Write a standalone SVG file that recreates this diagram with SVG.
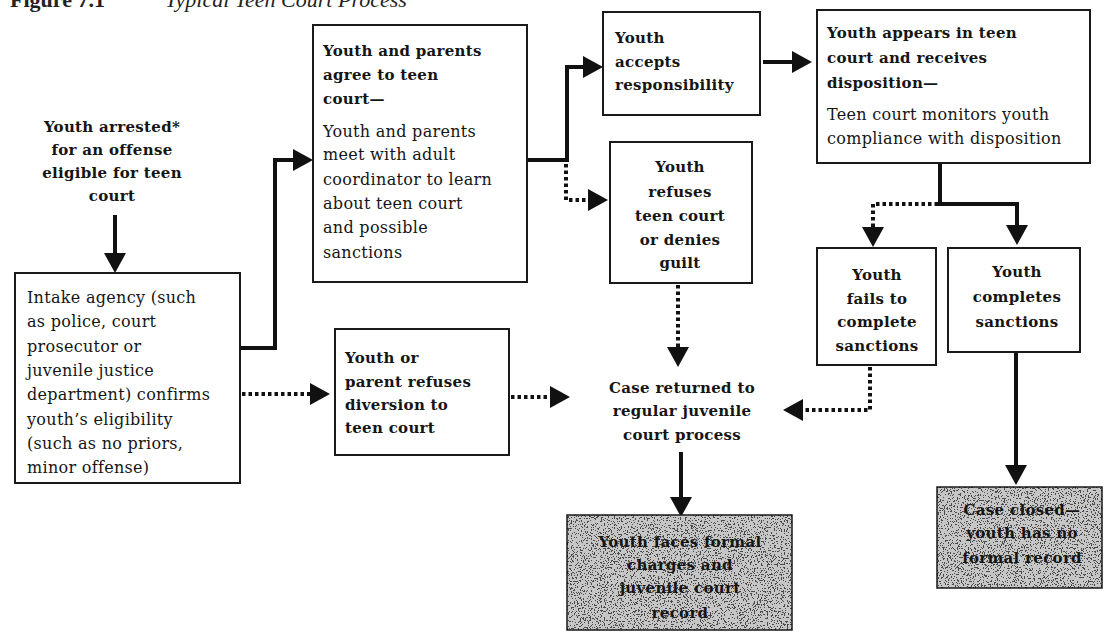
<svg xmlns="http://www.w3.org/2000/svg" width="1116" height="635" viewBox="0 0 1116 635">
  <defs>
    <style>
      .t { font-family: "DejaVu Serif", "Liberation Serif", serif; font-size: 16px; letter-spacing: 0.3px; fill: #151515; }
      .b { font-weight: bold; font-size: 15px; }
      .c { text-anchor: middle; }
      .box { fill: #ffffff; stroke: #1a1a1a; stroke-width: 2; }
      .shade { fill: #c6c6c6; stroke: #1a1a1a; stroke-width: 1.5; }
      .solid { fill: none; stroke: #111; stroke-width: 4; marker-end: url(#ah); }
      .dot { fill: none; stroke: #111; stroke-width: 4; stroke-dasharray: 3.5 3; marker-end: url(#ah); }
      .title { font-family: "Liberation Serif", serif; font-size: 22px; fill: #222; }
    </style>
    <marker id="ah" markerUnits="userSpaceOnUse" markerWidth="20" markerHeight="22" viewBox="0 0 20 22" refX="12" refY="11" orient="auto">
      <path d="M0,0 L20,11 L0,22 z" fill="#111"/>
    </marker>
    <filter id="speckle" filterUnits="objectBoundingBox" x="0" y="0" width="1" height="1">
      <feTurbulence type="fractalNoise" baseFrequency="0.7" numOctaves="2" seed="7"/>
      <feColorMatrix type="matrix" values="0 0 0 0 0  0 0 0 0 0  0 0 0 0 0  1 0 0 0 0"/>
      <feComponentTransfer>
        <feFuncA type="discrete" tableValues="0 0 0 0 0 0 0.62 0.62 0.62 0.62"/>
      </feComponentTransfer>
      <feComposite operator="in" in2="SourceGraphic"/>
    </filter>
  </defs>

  <rect width="1116" height="635" fill="#ffffff"/>

  <g id="title">
    <text class="title" x="10" y="7" font-weight="bold">Figure 7.1</text>
    <text class="title" x="165" y="7" font-style="italic">Typical Teen Court Process</text>
  </g>

  <g id="connectors">
    <path class="solid" d="M115,215 V265"/>
    <path class="solid" d="M240,348 H275 V160 H305"/>
    <path class="dot" d="M242,394 H322"/>
    <path class="dot" d="M511,397 H562"/>
    <path class="solid" d="M527,160 H567 V67 H595"/>
    <path class="dot" d="M566,164 V200 H600"/>
    <path class="solid" d="M763,62 H804"/>
    <path class="solid" d="M940,163 V204 H1017 V237"/>
    <path class="dot" d="M938,204 H873 V239"/>
    <path class="dot" d="M678,285 V359"/>
    <path class="dot" d="M870,367 V410 H791"/>
    <path class="solid" d="M681,452 V509"/>
    <path class="solid" d="M1016,353 V477"/>
  </g>

  <g id="start">
    <text class="t b c" x="112"><tspan x="112" y="132">Youth arrested*</tspan><tspan x="112" y="155">for an offense</tspan><tspan x="112" y="178">eligible for teen</tspan><tspan x="112" y="201">court</tspan></text>
  </g>

  <g id="intake">
    <rect class="box" x="15" y="273" width="225" height="210"/>
    <text class="t"><tspan x="27" y="303">Intake agency (such</tspan><tspan x="27" y="327">as police, court</tspan><tspan x="27" y="352">prosecutor or</tspan><tspan x="27" y="376">juvenile justice</tspan><tspan x="27" y="400">department) confirms</tspan><tspan x="27" y="425">youth’s eligibility</tspan><tspan x="27" y="449">(such as no priors,</tspan><tspan x="27" y="473">minor offense)</tspan></text>
  </g>

  <g id="agree">
    <rect class="box" x="313" y="25" width="214" height="257"/>
    <text class="t b"><tspan x="323" y="56">Youth and parents</tspan><tspan x="323" y="80">agree to teen</tspan><tspan x="323" y="104">court—</tspan></text>
    <text class="t"><tspan x="323" y="137">Youth and parents</tspan><tspan x="323" y="160">meet with adult</tspan><tspan x="323" y="185">coordinator to learn</tspan><tspan x="323" y="209">about teen court</tspan><tspan x="323" y="233">and possible</tspan><tspan x="323" y="258">sanctions</tspan></text>
  </g>

  <g id="accepts">
    <rect class="box" x="603" y="12" width="157" height="103"/>
    <text class="t b"><tspan x="615" y="43">Youth</tspan><tspan x="615" y="67">accepts</tspan><tspan x="615" y="90">responsibility</tspan></text>
  </g>

  <g id="appears">
    <rect class="box" x="817" y="10" width="273" height="153"/>
    <text class="t b"><tspan x="827" y="38">Youth appears in teen</tspan><tspan x="827" y="63">court and receives</tspan><tspan x="827" y="88">disposition—</tspan></text>
    <text class="t"><tspan x="827" y="120">Teen court monitors youth</tspan><tspan x="827" y="144">compliance with disposition</tspan></text>
  </g>

  <g id="refuses">
    <rect class="box" x="610" y="142" width="142" height="141"/>
    <text class="t b c"><tspan x="680" y="172">Youth</tspan><tspan x="680" y="197">refuses</tspan><tspan x="680" y="221">teen court</tspan><tspan x="680" y="245">or denies</tspan><tspan x="680" y="268">guilt</tspan></text>
  </g>

  <g id="fails">
    <rect class="box" x="817" y="248" width="119" height="117"/>
    <text class="t b c"><tspan x="877" y="280">Youth</tspan><tspan x="877" y="304">fails to</tspan><tspan x="877" y="327">complete</tspan><tspan x="877" y="351">sanctions</tspan></text>
  </g>

  <g id="completes">
    <rect class="box" x="948" y="248" width="132" height="104"/>
    <text class="t b c"><tspan x="1017" y="277">Youth</tspan><tspan x="1017" y="302">completes</tspan><tspan x="1017" y="327">sanctions</tspan></text>
  </g>

  <g id="diversion">
    <rect class="box" x="335" y="329" width="174" height="126"/>
    <text class="t b"><tspan x="345" y="363">Youth or</tspan><tspan x="345" y="387">parent refuses</tspan><tspan x="345" y="410">diversion to</tspan><tspan x="345" y="433">teen court</tspan></text>
  </g>

  <g id="returned">
    <text class="t b c"><tspan x="682" y="393">Case returned to</tspan><tspan x="682" y="416">regular juvenile</tspan><tspan x="682" y="440">court process</tspan></text>
  </g>

  <g id="formal">
    <rect class="shade" x="567" y="515" width="225" height="115"/>
    <rect x="567" y="515" width="225" height="115" fill="#000" filter="url(#speckle)"/>
    <text class="t b c"><tspan x="680" y="547">Youth faces formal</tspan><tspan x="680" y="570">charges and</tspan><tspan x="680" y="593">juvenile court</tspan><tspan x="680" y="618">record</tspan></text>
  </g>

  <g id="closed">
    <rect class="shade" x="937" y="487" width="165" height="101"/>
    <rect x="937" y="487" width="165" height="101" fill="#000" filter="url(#speckle)"/>
    <text class="t b c"><tspan x="1022" y="515">Case closed—</tspan><tspan x="1022" y="538">youth has no</tspan><tspan x="1022" y="563">formal record</tspan></text>
  </g>
</svg>
